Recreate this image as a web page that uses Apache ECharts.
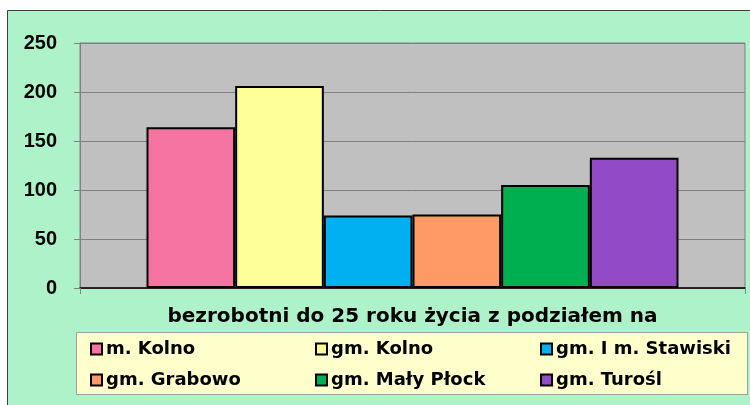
<!DOCTYPE html>
<html>
<head>
<meta charset="utf-8">
<script src="https://cdn.jsdelivr.net/npm/echarts@6/dist/echarts.min.js"></script>
<style>
  html, body { margin: 0; padding: 0; background: #fff; }
  #chart { width: 750px; height: 405px; }
</style>
</head>
<body>
<div id="chart"></div>
<script>
  const axisTitle = 'bezrobotni do 25 roku życia z podziałem na';
  const seriesNames = ['m. Kolno', 'gm. Kolno', 'gm. I m. Stawiski', 'gm. Grabowo', 'gm. Mały Płock', 'gm. Turośl'];
  const seriesValues = [164, 206, 74, 75, 105, 133];
  const seriesColors = ['#F574A2', '#FFFF99', '#00B0F0', '#FF9966', '#00AF50', '#924BC4'];
  const yTicks = { min: 0, max: 250, interval: 50 };

  const font = '"Liberation Sans", Arial, sans-serif';
  const wideFont = '"DejaVu Sans", Verdana, sans-serif';
  const chart = echarts.init(document.getElementById('chart'));

  // legend placed as a 3 x 2 grid of single-item legends
  const legendCols = [90, 315, 540];
  const legendRows = [340, 371];
  const legends = seriesNames.map((name, i) => ({
    data: [name],
    left: legendCols[i % 3],
    top: legendRows[Math.floor(i / 3)],
    padding: 0,
    icon: 'rect',
    itemWidth: 11,
    itemHeight: 11,
    itemGap: 0,
    selectedMode: false,
    textStyle: { fontFamily: wideFont, fontWeight: 'bold', fontSize: 18, color: '#000', padding: [0, 0, 0, -1] }
  }));

  const option = {
    animation: false,
    graphic: [
      {
        type: 'rect', z: -10,
        shape: { x: 7.5, y: 10.5, width: 760, height: 420 },
        style: { fill: '#AEF2C9', stroke: '#404040', lineWidth: 1 }
      },
      {
        type: 'rect', z: -5,
        shape: { x: 76.5, y: 332.5, width: 671, height: 62 },
        style: { fill: '#FFFFCC', stroke: '#A0A0A0', lineWidth: 1 }
      }
    ],
    legend: legends,
    grid: {
      left: 80, right: 5, top: 43, bottom: 117,
      show: true,
      backgroundColor: '#C0C0C0',
      borderColor: '#808080',
      borderWidth: 1
    },
    xAxis: {
      type: 'category',
      data: [''],
      name: axisTitle,
      nameLocation: 'middle',
      nameGap: 19,
      nameTextStyle: { fontFamily: wideFont, fontWeight: 'bold', fontSize: 20, color: '#000' },
      axisLine: { lineStyle: { color: '#000', width: 1.5 } },
      axisTick: { show: true, length: 6, lineStyle: { color: '#808080' } },
      axisLabel: { show: false }
    },
    yAxis: {
      type: 'value',
      min: yTicks.min,
      max: yTicks.max,
      interval: yTicks.interval,
      axisLine: { show: true, lineStyle: { color: '#808080' } },
      axisTick: { show: true, length: 6, lineStyle: { color: '#808080' } },
      splitLine: { lineStyle: { color: '#808080' } },
      axisLabel: { margin: 23, fontFamily: font, fontWeight: 'bold', fontSize: 20, color: '#000' }
    },
    series: seriesNames.map((name, i) => ({
      name: name,
      type: 'bar',
      data: [seriesValues[i]],
      barGap: '0%',
      barCategoryGap: '20%',
      itemStyle: { color: seriesColors[i], borderColor: '#000', borderWidth: 2 }
    }))
  };

  chart.setOption(option);
  window.addEventListener('resize', function () {
    chart.resize();
  });
</script>
</body>
</html>
